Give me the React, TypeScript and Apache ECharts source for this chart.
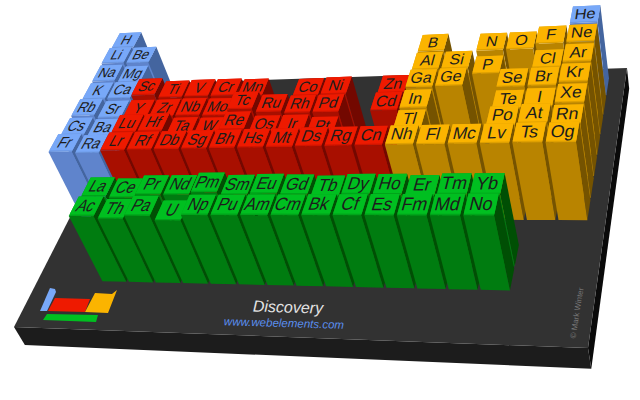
import React, { useEffect, useRef } from "react";
import * as echarts from "echarts";

// Periodic table rows (18 groups), then the two f-block rows placed from group 3.
const symbolRows: string[][] = [
  ["H","","","","","","","","","","","","","","","","","He"],
  ["Li","Be","","","","","","","","","","","B","C","N","O","F","Ne"],
  ["Na","Mg","","","","","","","","","","","Al","Si","P","S","Cl","Ar"],
  ["K","Ca","Sc","Ti","V","Cr","Mn","Fe","Co","Ni","Cu","Zn","Ga","Ge","As","Se","Br","Kr"],
  ["Rb","Sr","Y","Zr","Nb","Mo","Tc","Ru","Rh","Pd","Ag","Cd","In","Sn","Sb","Te","I","Xe"],
  ["Cs","Ba","Lu","Hf","Ta","W","Re","Os","Ir","Pt","Au","Hg","Tl","Pb","Bi","Po","At","Rn"],
  ["Fr","Ra","Lr","Rf","Db","Sg","Bh","Hs","Mt","Ds","Rg","Cn","Nh","Fl","Mc","Lv","Ts","Og"],
  [],
  ["","","La","Ce","Pr","Nd","Pm","Sm","Eu","Gd","Tb","Dy","Ho","Er","Tm","Yb"],
  ["","","Ac","Th","Pa","U","Np","Pu","Am","Cm","Bk","Cf","Es","Fm","Md","No"],
];
// Discovery year of each element; 0 = known since antiquity, no column stands there.
const yearRows: number[][] = [
  [1766,0,0,0,0,0,0,0,0,0,0,0,0,0,0,0,0,1895],
  [1817,1797,0,0,0,0,0,0,0,0,0,0,1808,0,1772,1774,1886,1898],
  [1807,1755,0,0,0,0,0,0,0,0,0,0,1825,1824,1669,0,1774,1894],
  [1807,1808,1879,1791,1801,1797,1774,0,1735,1751,0,1746,1875,1886,0,1817,1826,1898],
  [1861,1790,1794,1789,1801,1781,1937,1844,1803,1803,0,1817,1863,0,0,1782,1811,1898],
  [1860,1808,1907,1923,1802,1783,1925,1803,1803,1735,0,0,1861,0,0,1898,1940,1900],
  [1939,1898,1961,1969,1970,1974,1981,1984,1982,1994,1994,1996,2004,1999,2004,2000,2010,2002],
  [],
  [0,0,1839,1803,1885,1885,1945,1879,1901,1880,1843,1886,1878,1842,1879,1878],
  [0,0,1899,1829,1913,1789,1940,1940,1944,1944,1949,1950,1952,1952,1955,1958],
];
const titleText = "Discovery";
const urlText = "www.webelements.com";
const creditText = "© Mark Winter";

type Shade = [string, string, string, string];
const sColors: Shade = ["#78a8f8", "#5f84cc", "#44659f", "#6c97e0"];
const dColors: Shade = ["#ee1a00", "#a80f00", "#730800", "#d01500"];
const pColors: Shade = ["#fbb400", "#b98400", "#755300", "#dfa000"];
const fColors: Shade = ["#00bf20", "#007c10", "#004f04", "#00a41a"];

// Camera: plate quad homography with a vanishing point for the vertical edges.
const H = { a: 413.5, b: -126.19, c: 138, d: -24.19, e: 191.9, f: 84, g: -0.1204, h: -0.15627 };
const VP = [790, 1613];
const YEAR_K = 2.1e-5;
const S0 = 0.0234, DS = 0.05274, T0 = 0.038, DT = 0.0797;
const W = 640, HT = 400, COLS = 18, ROWS = 10, PAD = 0.05, LIP = 0.07;

function projectST(s: number, t: number, lam: number): [number, number] {
  const w = H.g * s + H.h * t + 1 + lam;
  return [(H.a * s + H.b * t + H.c + lam * VP[0]) / w, (H.d * s + H.e * t + H.f + lam * VP[1]) / w];
}

type Cell = { col: number; row: number; year: number; sym: string; colors: Shade };
const cells: Cell[] = [];
symbolRows.forEach((r, row) =>
  r.forEach((sym, col) => {
    const year = yearRows[row][col];
    if (!sym || !year) return;
    const colors = row >= 8 ? fColors : sym === "He" || col < 2 ? sColors : col < 12 ? dColors : pColors;
    cells.push({ col, row, year, sym, colors });
  })
);

const renderTile = (params: any, api: any) => {
  const cell = cells[params.dataIndex];
  const lam = -api.value(2) * YEAR_K;
  // logical floor position comes from the hidden axes
  const P = (u: number, v: number, l: number) => {
    const c = api.coord([u, v]);
    return projectST(S0 + DS * (c[0] / W) * COLS, T0 + DT * (c[1] / HT) * ROWS, l);
  };
  const u0 = api.value(0) + PAD, u1 = api.value(0) + 1 - PAD;
  const v0 = api.value(1) + PAD, v1 = api.value(1) + 1 - PAD;
  const [top, front, side, lip] = cell.colors;
  const um = (u0 + u1) / 2, vm = (v0 + v1) / 2;
  const ctr = P(um, vm - LIP / 2, lam);
  const du = [P(u1, vm, lam)[0] - P(u0, vm, lam)[0], P(u1, vm, lam)[1] - P(u0, vm, lam)[1]];
  const dv = [P(um, v1, lam)[0] - P(um, v0, lam)[0], P(um, v1, lam)[1] - P(um, v0, lam)[1]];
  const a = du[0] / 20, b = du[1] / 20, c = dv[0] / 14, d = dv[1] / 14;
  return {
    type: "group",
    children: [
      { type: "polygon", shape: { points: [P(u1, v0, lam), P(u1, v1, lam), P(u1, v1, 0), P(u1, v0, 0)] }, style: { fill: side } },
      { type: "polygon", shape: { points: [P(u0, v1, lam), P(u1, v1, lam), P(u1, v1, 0), P(u0, v1, 0)] }, style: { fill: front } },
      { type: "polygon", shape: { points: [P(u0, v0, lam), P(u1, v0, lam), P(u1, v1, lam), P(u0, v1, lam)] }, style: { fill: lip } },
      { type: "polygon", shape: { points: [P(u0, v0, lam), P(u1, v0, lam), P(u1, v1 - LIP, lam), P(u0, v1 - LIP, lam)] }, style: { fill: top } },
      {
        type: "text",
        x: ctr[0],
        y: ctr[1],
        scaleX: a,
        scaleY: d,
        skewX: Math.atan(c / a),
        skewY: -Math.atan(b / d),
        style: {
          text: cell.sym,
          font: '12px "Liberation Sans"',
          fill: "#1c1c1c",
          align: "center",
          verticalAlign: "middle",
          textAlign: "center",
          textVerticalAlign: "middle",
        },
      },
    ],
  };
};

export default function App() {
  const ref = useRef<HTMLDivElement>(null);
  useEffect(() => {
    document.body.style.margin = "0";
    const chart = echarts.init(ref.current!, undefined, { renderer: "svg", width: W, height: HT });
    const T = 0.012;
    const q = (s: number, t: number, l = 0) => projectST(s, t, l);
    chart.setOption({
      animation: false,
      backgroundColor: "#ffffff",
      grid: { left: 0, top: 0, width: W, height: HT },
      xAxis: { type: "value", min: 0, max: COLS, show: false },
      yAxis: { type: "value", min: 0, max: ROWS, inverse: true, show: false },
      graphic: [
        { type: "polygon", shape: { points: [q(1, 0), q(1, 1), q(1, 1, T), q(1, 0, T)] }, style: { fill: "#0a0a0a" }, silent: true },
        { type: "polygon", shape: { points: [q(0, 1), q(1, 1), q(1, 1, T), q(0, 1, T)] }, style: { fill: "#1c1c1c" }, silent: true },
        { type: "polygon", shape: { points: [q(0, 0), q(1, 0), q(1, 1), q(0, 1)] }, style: { fill: "#323232" }, silent: true },
        { type: "polygon", shape: { points: [[40, 311], [50, 288], [55, 289], [56, 292], [47, 311]] }, style: { fill: "#78a8f8" }, silent: true },
        { type: "polygon", shape: { points: [[48, 311], [55, 298], [90, 299], [85, 312]] }, style: { fill: "#ee1a00" }, silent: true },
        { type: "polygon", shape: { points: [[85, 312], [95, 293], [112, 294], [117, 290], [108, 313]] }, style: { fill: "#fbb400" }, silent: true },
        { type: "polygon", shape: { points: [[43, 320], [47, 314], [98, 315], [96, 322]] }, style: { fill: "#00bf20" }, silent: true },
        { type: "text", x: 288, y: 307, rotation: -0.03, style: { text: titleText, font: 'italic 16px "Liberation Sans"', fill: "#e4e4e4", align: "center", verticalAlign: "middle", textAlign: "center", textVerticalAlign: "middle" }, silent: true },
        { type: "text", x: 284, y: 323, rotation: -0.03, style: { text: urlText, font: 'italic 11.5px "Liberation Sans"', fill: "#5a8ff0", align: "center", verticalAlign: "middle", textAlign: "center", textVerticalAlign: "middle" }, silent: true },
        { type: "text", x: 577, y: 313, rotation: 1.41, style: { text: creditText, font: '8px "Liberation Sans"', fill: "#777777", align: "center", verticalAlign: "middle", textAlign: "center", textVerticalAlign: "middle" }, silent: true },
      ],
      series: [
        {
          type: "custom",
          silent: true,
          clip: false,
          renderItem: renderTile,
          data: cells.map((c) => [c.col, c.row, c.year]),
        },
      ],
    });
    return () => chart.dispose();
  }, []);
  return <div ref={ref} style={{ position: "absolute", left: 0, top: 0, width: W, height: HT }} />;
}
